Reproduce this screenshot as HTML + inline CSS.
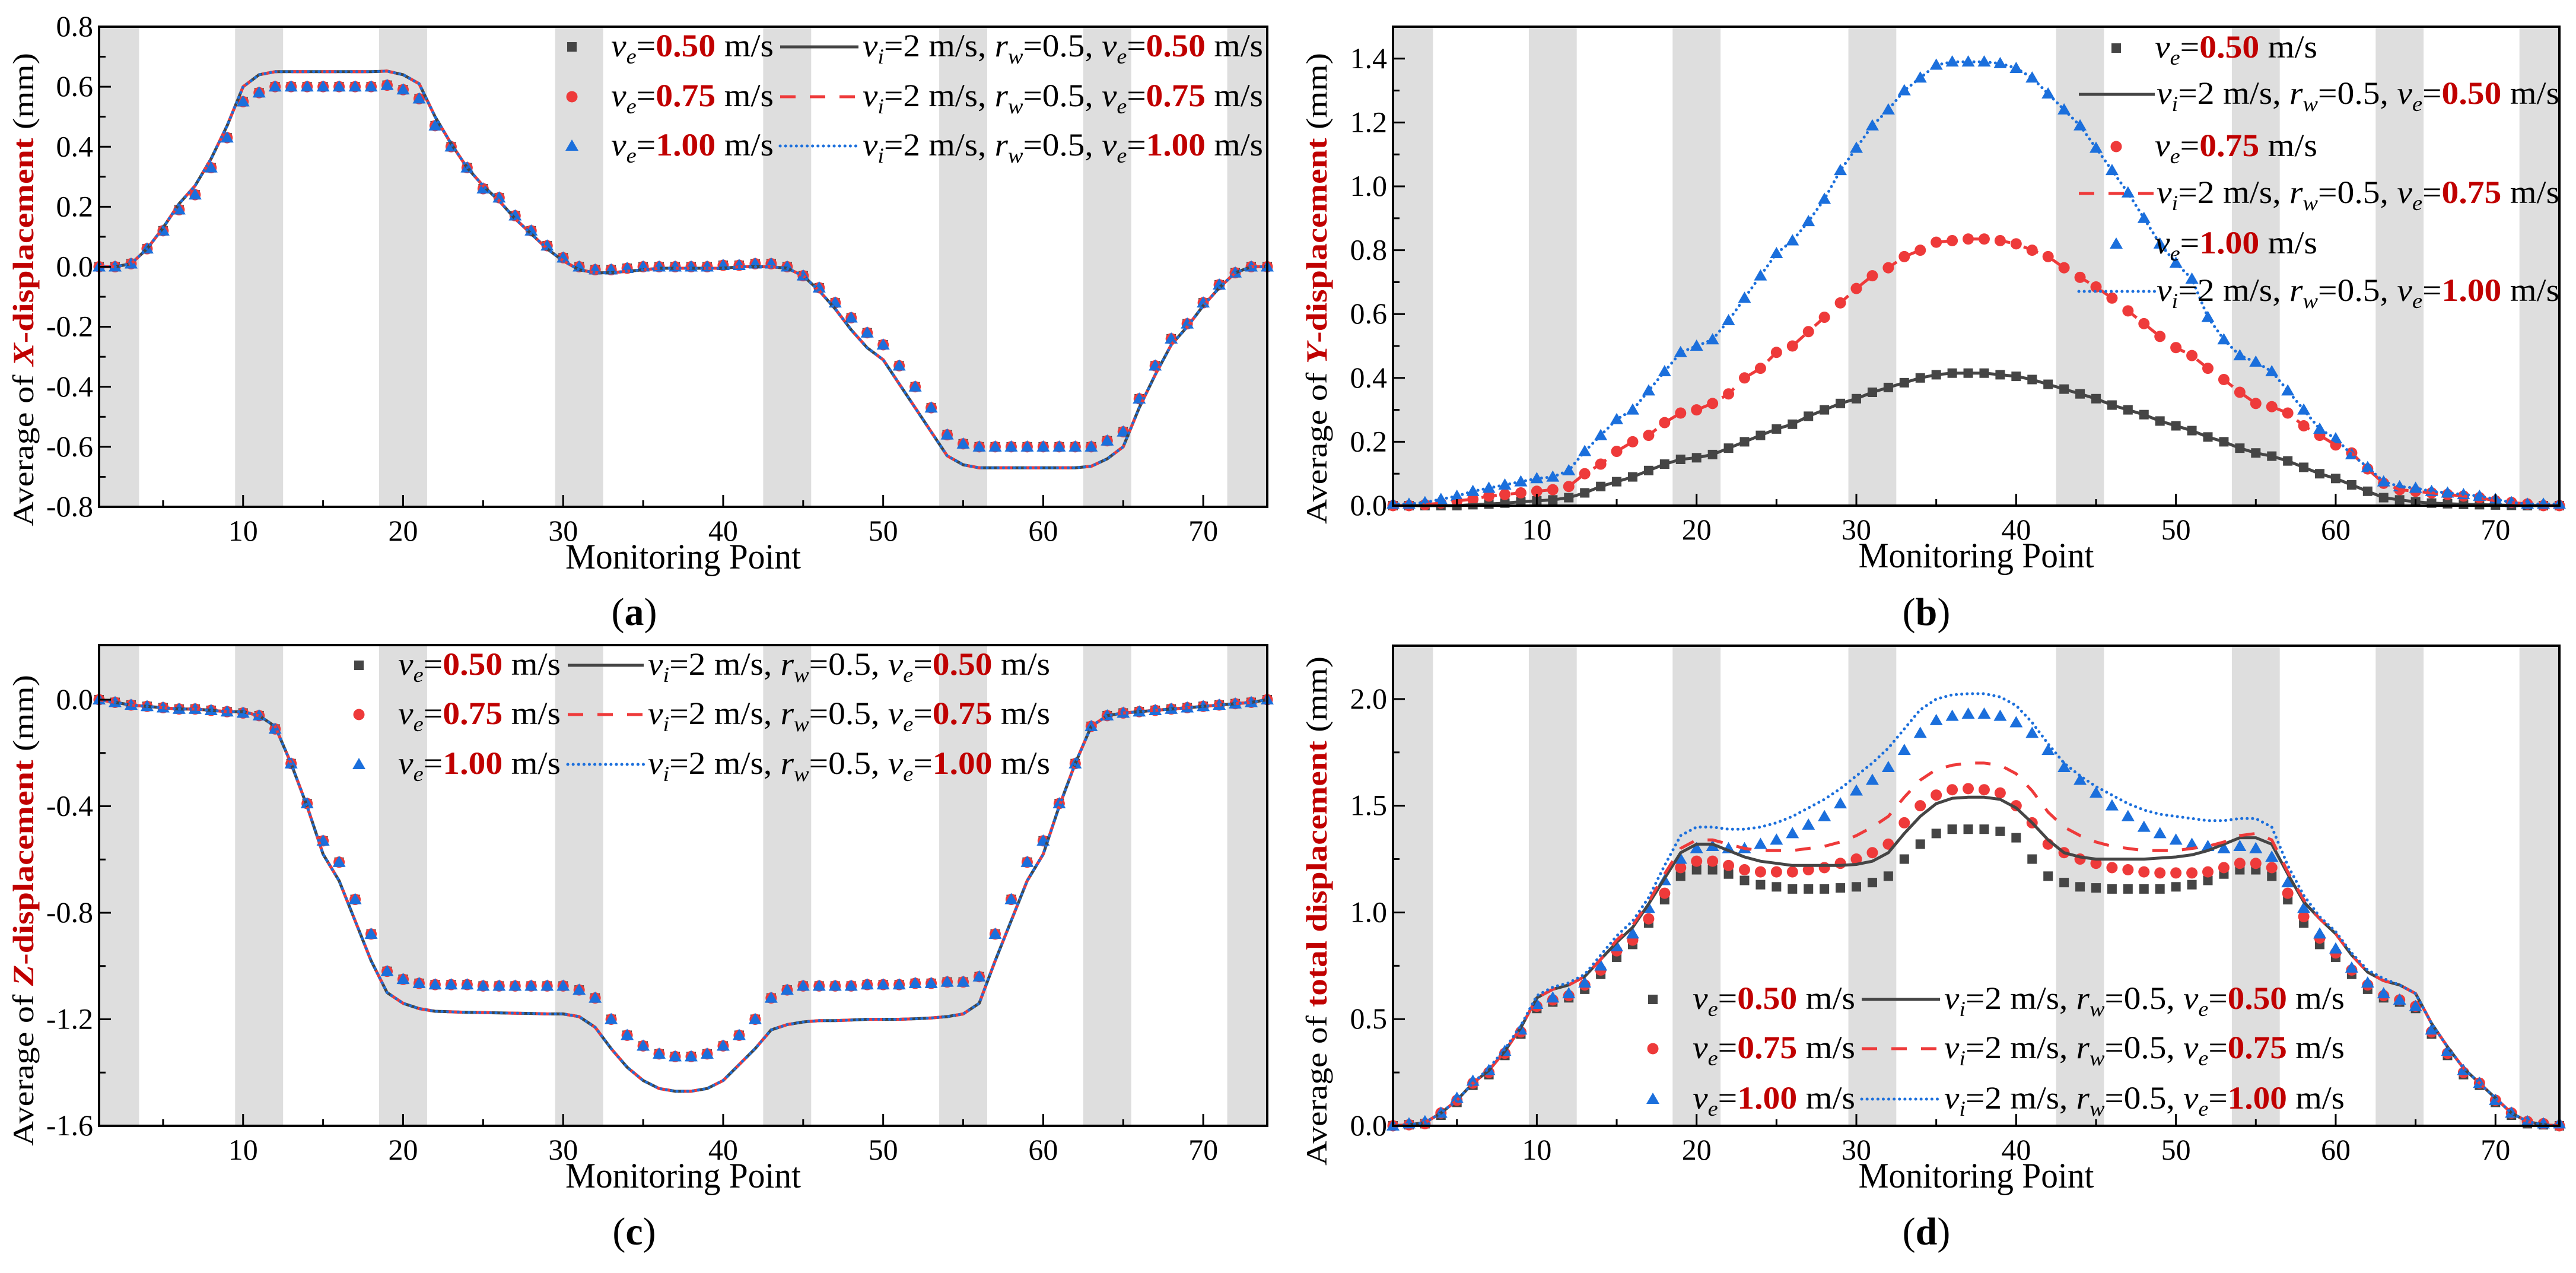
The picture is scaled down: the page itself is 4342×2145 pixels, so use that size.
<!DOCTYPE html>
<html><head><meta charset="utf-8"><style>
html,body{margin:0;padding:0;background:#fff;}
svg{display:block;font-family:"Liberation Serif","Times New Roman","DejaVu Serif",serif;}
svg text{font-family:"Liberation Serif","Times New Roman","DejaVu Serif",serif;}
</style></head>
<body>
<svg id="fig" xmlns="http://www.w3.org/2000/svg" width="4342" height="2145" viewBox="0 0 4342 2145" font-family="Liberation Serif, Times New Roman, DejaVu Serif, serif"></svg>
<script>
// ---------- DATA ----------
const points = [];
for (let i = 1; i <= 74; i++) points.push(i);
const bands = [[1,3.5],[9.5,12.5],[18.5,21.5],[29.5,32.5],[42.5,45.5],[53.5,56.5],[62.5,65.5],[71.5,74]];
const xTicks = [10,20,30,40,50,60,70];
const xMinor = [5,15,25,35,45,55,65];
const speedLabels = ["0.50","0.75","1.00"];

// (a) X-displacement
const aMarks050 = [0,0,0.01,0.06,0.12,0.19,0.24,0.33,0.43,0.55, 0.58,0.60,0.60,0.60,0.60,0.60,0.60,0.60,0.605,0.59, 0.56,0.47,0.40,0.33,0.26,0.23,0.17,0.12,0.07,0.03, 0,-0.01,-0.01,-0.005,0,0,0,0,0,0.005, 0.005,0.01,0.01,0,-0.03,-0.07,-0.12,-0.17,-0.22,-0.26, -0.33,-0.40,-0.47,-0.56,-0.59,-0.60,-0.60,-0.60,-0.60,-0.60, -0.60,-0.60,-0.60,-0.58,-0.55,-0.44,-0.33,-0.24,-0.19,-0.12, -0.06,-0.02,0,0];
const aMarks075 = [0,0,0.01,0.06,0.12,0.19,0.24,0.33,0.43,0.55, 0.58,0.60,0.60,0.60,0.60,0.60,0.60,0.60,0.605,0.59, 0.56,0.47,0.40,0.33,0.26,0.23,0.17,0.12,0.07,0.03, 0,-0.01,-0.01,-0.005,0,0,0,0,0,0.005, 0.005,0.01,0.01,0,-0.03,-0.07,-0.12,-0.17,-0.22,-0.26, -0.33,-0.40,-0.47,-0.56,-0.59,-0.60,-0.60,-0.60,-0.60,-0.60, -0.60,-0.60,-0.60,-0.58,-0.55,-0.44,-0.33,-0.24,-0.19,-0.12, -0.06,-0.02,0,0];
const aMarks100 = [0,0,0.01,0.06,0.12,0.19,0.24,0.33,0.43,0.55, 0.58,0.60,0.60,0.60,0.60,0.60,0.60,0.60,0.605,0.59, 0.56,0.47,0.40,0.33,0.26,0.23,0.17,0.12,0.07,0.03, 0,-0.01,-0.01,-0.005,0,0,0,0,0,0.005, 0.005,0.01,0.01,0,-0.03,-0.07,-0.12,-0.17,-0.22,-0.26, -0.33,-0.40,-0.47,-0.56,-0.59,-0.60,-0.60,-0.60,-0.60,-0.60, -0.60,-0.60,-0.60,-0.58,-0.55,-0.44,-0.33,-0.24,-0.19,-0.12, -0.06,-0.02,0,0];
const aLine = [0,0,0.01,0.06,0.13,0.21,0.27,0.36,0.47,0.60, 0.64,0.65,0.65,0.65,0.65,0.65,0.65,0.65,0.652,0.64, 0.61,0.50,0.41,0.33,0.27,0.22,0.16,0.11,0.06,0.02, -0.01,-0.02,-0.02,-0.015,-0.01,-0.005,-0.005,-0.005,-0.005,-0.005, 0,0,0,-0.005,-0.03,-0.08,-0.14,-0.21,-0.27,-0.31, -0.39,-0.47,-0.55,-0.63,-0.66,-0.67,-0.67,-0.67,-0.67,-0.67, -0.67,-0.67,-0.665,-0.64,-0.60,-0.47,-0.36,-0.26,-0.20,-0.13, -0.07,-0.02,0,0];
const aYTicks = [-0.8,-0.6,-0.4,-0.2,0,0.2,0.4,0.6,0.8];
const aYLabels = ["-0.8","-0.6","-0.4","-0.2","0.0","0.2","0.4","0.6","0.8"];

// (b) Y-displacement
const bMarks050 = [0,0,0,0,0,0.003,0.005,0.008,0.012,0.015, 0.018,0.025,0.04,0.06,0.075,0.09,0.11,0.13,0.145,0.15, 0.16,0.18,0.2,0.22,0.24,0.255,0.28,0.30,0.32,0.335, 0.355,0.37,0.385,0.40,0.41,0.415,0.415,0.415,0.41,0.405, 0.395,0.38,0.365,0.35,0.335,0.315,0.30,0.285,0.265,0.25, 0.235,0.215,0.20,0.18,0.165,0.155,0.14,0.12,0.10,0.085, 0.065,0.045,0.025,0.018,0.012,0.008,0.006,0.004,0.003,0.002, 0.001,0,0,0];
const bMarks075 = [0,0,0.003,0.008,0.015,0.02,0.03,0.035,0.04,0.045, 0.05,0.06,0.10,0.13,0.17,0.20,0.22,0.26,0.29,0.30, 0.32,0.35,0.40,0.43,0.48,0.50,0.545,0.59,0.635,0.68, 0.72,0.745,0.78,0.80,0.825,0.83,0.835,0.835,0.83,0.82, 0.80,0.78,0.745,0.715,0.685,0.65,0.61,0.57,0.53,0.495, 0.47,0.43,0.395,0.355,0.32,0.31,0.29,0.25,0.22,0.19, 0.165,0.115,0.07,0.05,0.045,0.04,0.035,0.03,0.025,0.015, 0.01,0.005,0,0];
const bMarks100 = [0.005,0.005,0.01,0.02,0.03,0.045,0.055,0.065,0.075,0.085, 0.09,0.11,0.17,0.22,0.27,0.30,0.36,0.42,0.48,0.50, 0.52,0.58,0.65,0.72,0.79,0.83,0.89,0.96,1.05,1.12, 1.19,1.24,1.30,1.34,1.38,1.39,1.39,1.39,1.385,1.37, 1.34,1.29,1.24,1.19,1.12,1.05,0.98,0.90,0.82,0.76, 0.71,0.59,0.52,0.47,0.45,0.42,0.36,0.30,0.24,0.21, 0.16,0.12,0.075,0.06,0.055,0.045,0.04,0.035,0.03,0.02, 0.01,0.005,0.005,0.005];
const bYTicks = [0,0.2,0.4,0.6,0.8,1.0,1.2,1.4];
const bYLabels = ["0.0","0.2","0.4","0.6","0.8","1.0","1.2","1.4"];

// (c) Z-displacement
const cMarks = [0,-0.01,-0.02,-0.025,-0.03,-0.035,-0.035,-0.04,-0.045,-0.05, -0.06,-0.11,-0.24,-0.39,-0.53,-0.61,-0.75,-0.88,-1.02,-1.05, -1.065,-1.07,-1.07,-1.07,-1.075,-1.075,-1.075,-1.075,-1.075,-1.075, -1.09,-1.12,-1.2,-1.26,-1.3,-1.33,-1.34,-1.34,-1.33,-1.3, -1.26,-1.2,-1.12,-1.09,-1.075,-1.075,-1.075,-1.075,-1.07,-1.07, -1.07,-1.065,-1.065,-1.06,-1.06,-1.04,-0.88,-0.75,-0.61,-0.53, -0.39,-0.24,-0.10,-0.06,-0.05,-0.045,-0.04,-0.035,-0.03,-0.025, -0.02,-0.015,-0.01,0];
const cLine = [0,-0.01,-0.02,-0.025,-0.03,-0.035,-0.035,-0.04,-0.045,-0.045, -0.06,-0.10,-0.24,-0.40,-0.58,-0.68,-0.83,-0.98,-1.10,-1.14, -1.16,-1.17,-1.172,-1.174,-1.175,-1.176,-1.177,-1.178,-1.18,-1.18, -1.19,-1.23,-1.31,-1.38,-1.43,-1.46,-1.47,-1.47,-1.46,-1.43, -1.37,-1.31,-1.24,-1.22,-1.21,-1.205,-1.205,-1.203,-1.2,-1.2, -1.2,-1.198,-1.195,-1.19,-1.18,-1.14,-0.98,-0.83,-0.68,-0.58, -0.40,-0.24,-0.10,-0.06,-0.05,-0.045,-0.04,-0.035,-0.03,-0.025, -0.02,-0.015,-0.01,0];
const cYTicks = [-1.6,-1.2,-0.8,-0.4,0];
const cYLabels = ["-1.6","-1.2","-0.8","-0.4","0.0"];

// (d) total displacement
const dMarks050 = [0,0.005,0.01,0.05,0.11,0.19,0.24,0.33,0.43,0.55, 0.58,0.60,0.64,0.71,0.79,0.85,0.95,1.06,1.17,1.20, 1.20,1.18,1.15,1.13,1.12,1.11,1.11,1.11,1.115,1.12, 1.14,1.17,1.25,1.32,1.37,1.39,1.39,1.39,1.38,1.35, 1.25,1.17,1.14,1.12,1.115,1.11,1.11,1.11,1.11,1.12, 1.13,1.15,1.18,1.20,1.20,1.17,1.06,0.95,0.85,0.79, 0.71,0.64,0.60,0.58,0.55,0.43,0.33,0.24,0.19,0.11, 0.05,0.01,0.005,0];
const dMarks075 = [0,0.005,0.01,0.06,0.12,0.2,0.25,0.34,0.44,0.56, 0.59,0.61,0.66,0.73,0.82,0.87,0.97,1.09,1.21,1.24, 1.24,1.22,1.20,1.19,1.19,1.19,1.20,1.21,1.23,1.25, 1.28,1.32,1.42,1.50,1.55,1.575,1.58,1.575,1.56,1.50, 1.42,1.32,1.28,1.25,1.23,1.21,1.20,1.19,1.185,1.185, 1.185,1.19,1.21,1.23,1.23,1.21,1.09,0.98,0.88,0.81, 0.73,0.66,0.61,0.59,0.56,0.44,0.34,0.25,0.2,0.12, 0.06,0.02,0.01,0];
const dMarks100 = [0,0.01,0.02,0.06,0.13,0.21,0.26,0.35,0.45,0.57, 0.60,0.62,0.67,0.75,0.84,0.90,1.02,1.15,1.25,1.30, 1.31,1.30,1.30,1.32,1.34,1.37,1.41,1.45,1.51,1.57, 1.62,1.68,1.76,1.84,1.90,1.92,1.93,1.93,1.92,1.89, 1.84,1.76,1.68,1.62,1.56,1.50,1.45,1.40,1.37,1.34, 1.32,1.31,1.30,1.31,1.30,1.26,1.14,1.02,0.90,0.83, 0.74,0.67,0.62,0.59,0.56,0.45,0.35,0.26,0.2,0.12, 0.06,0.02,0.01,0.01];
const dLine050 = [0,0.005,0.015,0.06,0.12,0.2,0.26,0.35,0.46,0.60, 0.64,0.66,0.70,0.78,0.86,0.93,1.04,1.16,1.28,1.32, 1.32,1.29,1.26,1.24,1.23,1.22,1.22,1.22,1.22,1.225, 1.24,1.28,1.37,1.45,1.51,1.535,1.54,1.54,1.53,1.49, 1.42,1.34,1.28,1.26,1.25,1.25,1.25,1.25,1.255,1.26, 1.27,1.29,1.32,1.35,1.35,1.32,1.18,1.05,0.97,0.90, 0.80,0.72,0.68,0.66,0.62,0.48,0.37,0.27,0.20,0.13, 0.06,0.02,0.005,0];
const dLine075 = [0,0.005,0.015,0.06,0.12,0.2,0.26,0.35,0.46,0.60, 0.64,0.66,0.70,0.78,0.87,0.94,1.05,1.18,1.30,1.34, 1.34,1.32,1.30,1.29,1.29,1.29,1.30,1.31,1.33,1.36, 1.40,1.45,1.54,1.62,1.67,1.69,1.70,1.70,1.69,1.65, 1.57,1.47,1.40,1.36,1.33,1.31,1.30,1.29,1.29,1.29, 1.30,1.31,1.33,1.36,1.37,1.34,1.19,1.06,0.97,0.90, 0.80,0.72,0.68,0.66,0.62,0.48,0.37,0.27,0.20,0.13, 0.06,0.02,0.005,0];
const dLine100 = [0,0.005,0.015,0.06,0.12,0.2,0.27,0.36,0.47,0.61, 0.65,0.67,0.71,0.80,0.89,0.96,1.07,1.22,1.36,1.40, 1.40,1.39,1.39,1.40,1.42,1.45,1.49,1.53,1.58,1.64, 1.70,1.77,1.86,1.95,2.00,2.02,2.025,2.025,2.01,1.97, 1.89,1.79,1.70,1.64,1.59,1.55,1.51,1.48,1.46,1.45, 1.44,1.43,1.43,1.44,1.44,1.40,1.22,1.08,0.98,0.91, 0.81,0.73,0.69,0.66,0.62,0.48,0.37,0.27,0.20,0.13, 0.06,0.02,0.005,0];
const dYTicks = [0,0.5,1.0,1.5,2.0];
const dYLabels = ["0.0","0.5","1.0","1.5","2.0"];

// ---------- RENDER ----------
const NS = "http://www.w3.org/2000/svg";
const FONT = "Liberation Serif, Times New Roman, DejaVu Serif, serif";
const svg = document.getElementById('fig');
const COL = {k:"#454545", r:"#ee3a3a", b:"#1b6fdc", band:"#dedede", red:"#c00000"};
function mk(tag, attrs, parent){
  const e = document.createElementNS(NS, tag);
  for (const k in attrs) e.setAttribute(k, attrs[k]);
  if (tag === 'text') e.setAttribute('font-family', FONT);
  (parent||svg).appendChild(e);
  return e;
}

function panel(cfg){
  const g = mk('g', {});
  
  
  const X = v => cfg.L + (v - 1) / 73 * (cfg.R - cfg.L);
  const Y = v => cfg.B - (v - cfg.ymin) / (cfg.ymax - cfg.ymin) * (cfg.B - cfg.T);
  bands.forEach(bd => {
    const r = mk('rect', {x:X(bd[0]), y:cfg.T, width:X(bd[1])-X(bd[0]), height:cfg.B-cfg.T, fill:COL.band}, g);
    
    
  });
  const mg = mk('g', {}, g);
  
  
  cfg.marks.forEach(s => {
    s.data.forEach((v, i) => {
      const x = X(points[i]), y = Y(v);
      let e;
      if (s.shape === 'sq') e = mk('rect', {x:x-8, y:y-8, width:16, height:16, fill:COL.k}, mg);
      else if (s.shape === 'ci') e = mk('circle', {cx:x, cy:y, r:9.5, fill:COL.r}, mg);
      else e = mk('polygon', {points:`${x},${y-11} ${x+11},${y+8} ${x-11},${y+8}`, fill:COL.b}, mg);
      
      
    });
  });
  cfg.lines.forEach(s => {
    const d = s.data.map((v, i) => (i ? 'L' : 'M') + X(points[i]).toFixed(1) + ',' + Y(v).toFixed(1)).join('');
    const p = mk('path', {d:d, fill:'none', stroke:s.color, 'stroke-width':5, 'stroke-dasharray':s.dash||'none', 'stroke-linecap':s.cap||'butt', 'stroke-linejoin':'round'}, g);
    
    
  });
  const fr = mk('rect', {x:cfg.L, y:cfg.T, width:cfg.R-cfg.L, height:cfg.B-cfg.T, fill:'none', stroke:'#000', 'stroke-width':4}, g);
  
  
  xTicks.forEach(t => {
    mk('line', {x1:X(t), x2:X(t), y1:cfg.B, y2:cfg.B-20, stroke:'#000', 'stroke-width':3}, g);
    const tx = mk('text', {x:X(t), y:cfg.B+57, 'font-size':50, 'text-anchor':'middle'}, g);
    tx.textContent = String(t);
    
    
  });
  xMinor.forEach(t => mk('line', {x1:X(t), x2:X(t), y1:cfg.B, y2:cfg.B-11, stroke:'#000', 'stroke-width':3}, g));
  cfg.yTicks.forEach((t, i) => {
    mk('line', {x1:cfg.L, x2:cfg.L+20, y1:Y(t), y2:Y(t), stroke:'#000', 'stroke-width':3}, g);
    const tx = mk('text', {x:cfg.L-10, y:Y(t)+16, 'font-size':50, 'text-anchor':'end'}, g);
    tx.textContent = cfg.yLabels[i];
    
    
  });
  for (let i = 0; i < cfg.yTicks.length - 1; i++) {
    const m = (cfg.yTicks[i] + cfg.yTicks[i+1]) / 2;
    mk('line', {x1:cfg.L, x2:cfg.L+11, y1:Y(m), y2:Y(m), stroke:'#000', 'stroke-width':3}, g);
  }
  const xt = mk('text', {x:(cfg.L+cfg.R)/2, y:cfg.B+104, 'font-size':60, 'text-anchor':'middle', textLength:397, lengthAdjust:'spacingAndGlyphs'}, g);
  xt.textContent = 'Monitoring Point';
  
  
  const yt = mk('text', {x:0, y:0, 'font-size':50, 'text-anchor':'middle', transform:`translate(${cfg.ytx},${cfg.yty}) rotate(-90)`, textLength:cfg.ytl, lengthAdjust:'spacingAndGlyphs'}, g);
  yt.innerHTML = `<tspan>Average of </tspan><tspan fill="${COL.red}" font-weight="bold">${cfg.ytBold}</tspan><tspan> (mm)</tspan>`;
  
  
  const pl = mk('text', {x:cfg.plx, y:cfg.ply, 'font-size':66, 'text-anchor':'middle'}, g);
  pl.innerHTML = `(<tspan font-weight="bold">${cfg.letter}</tspan>)`;
  
  
  return {g, X, Y};
}

function sub(ch){ return `<tspan font-style="italic" font-size="36" dy="12">${ch}</tspan><tspan dy="-12">`; }
function t1(s){ return `<tspan font-style="italic">v</tspan>${sub('e')}=</tspan><tspan fill="${COL.red}" font-weight="bold">${s}</tspan><tspan> m/s</tspan>`; }
function t2(s){ return `<tspan font-style="italic">v</tspan>${sub('i')}=2 m/s, </tspan><tspan font-style="italic">r</tspan>${sub('w')}=0.5, </tspan><tspan font-style="italic">v</tspan>${sub('e')}=</tspan><tspan fill="${COL.red}" font-weight="bold">${s}</tspan><tspan> m/s</tspan>`; }

const lineStyles = [
  {color:COL.k, dash:'none', cap:'butt'},
  {color:COL.r, dash:'26 24', cap:'butt'},
  {color:COL.b, dash:'0.1 9', cap:'round'}
];
function markerAt(g, shape, x, y){
  let e;
  if (shape === 0) e = mk('rect', {x:x-8, y:y-8, width:16, height:16, fill:COL.k}, g);
  else if (shape === 1) e = mk('circle', {cx:x, cy:y, r:9.5, fill:COL.r}, g);
  else e = mk('polygon', {points:`${x},${y-11} ${x+11},${y+8} ${x-11},${y+8}`, fill:COL.b}, g);
  
  
}
function textAt(g, html, x, y, len){
  const t = mk('text', {x:x, y:y, 'font-size':54, textLength:len, lengthAdjust:'spacingAndGlyphs'}, g);
  t.innerHTML = html;
  
  
}
function lineAt(g, i, x1, x2, y){
  const s = lineStyles[i];
  const l = mk('line', {x1:x1, x2:x2, y1:y, y2:y, stroke:s.color, 'stroke-width':5, 'stroke-dasharray':s.dash, 'stroke-linecap':s.cap}, g);
  
  
}
function legendRow(parent, L){
  const g = mk('g', {}, parent);
  
  
  L.rows.forEach((ry, i) => {
    const e = mk('g', {}, g);
    
    
    markerAt(e, i, L.mx, ry);
    textAt(e, t1(speedLabels[i]), L.t1x, ry+16, 274);
    lineAt(e, i, L.l1, L.l2, ry);
    textAt(e, t2(speedLabels[i]), L.t2x, ry+16, L.t2l);
  });
}

const pa = panel({name:'panel-a-x-displacement', L:167, R:2136, T:45, B:854, ymin:-0.8, ymax:0.8,
  yTicks:aYTicks, yLabels:aYLabels, ytx:56, yty:488, ytl:798, ytBold:'<tspan font-style="italic">X</tspan>-displacement',
  plx:1069, ply:1053, letter:'a',
  marks:[{id:'ve050', shape:'sq', data:aMarks050},{id:'ve075', shape:'ci', data:aMarks075},{id:'ve100', shape:'tr', data:aMarks100}],
  lines:[{id:'ve050', color:COL.k, data:aLine},{id:'ve075', color:COL.r, dash:'26 24', data:aLine},{id:'ve100', color:COL.b, dash:'0.1 9', cap:'round', data:aLine}]});
legendRow(pa.g, {rows:[79,163,246], mx:964, t1x:1030, l1:1315, l2:1447, t2x:1454, t2l:675});

const pb = panel({name:'panel-b-y-displacement', L:2348, R:4314, T:45, B:852, ymin:0, ymax:1.5,
  yTicks:bYTicks, yLabels:bYLabels, ytx:2236, yty:486, ytl:794, ytBold:'<tspan font-style="italic">Y</tspan>-displacement',
  plx:3247, ply:1053, letter:'b',
  marks:[{id:'ve050', shape:'sq', data:bMarks050},{id:'ve075', shape:'ci', data:bMarks075},{id:'ve100', shape:'tr', data:bMarks100}],
  lines:[{id:'ve050', color:COL.k, data:bMarks050},{id:'ve075', color:COL.r, dash:'26 24', data:bMarks075},{id:'ve100', color:COL.b, dash:'0.1 9', cap:'round', data:bMarks100}]});
(function(){
  const g = mk('g', {}, pb.g);
  
  
  const mrows = [81,247,411], lrows = [159,326,491];
  for (let i = 0; i < 3; i++) {
    markerAt(g, i, 3567, mrows[i]);
    textAt(g, t1(speedLabels[i]), 3632, mrows[i]+16, 274);
    lineAt(g, i, 3504, 3632, lrows[i]);
    textAt(g, t2(speedLabels[i]), 3635, lrows[i]+16, 679);
  }
})();

const pc = panel({name:'panel-c-z-displacement', L:167, R:2136, T:1087, B:1897, ymin:-1.6, ymax:0.205,
  yTicks:cYTicks, yLabels:cYLabels, ytx:56, yty:1534, ytl:794, ytBold:'<tspan font-style="italic">Z</tspan>-displacement',
  plx:1069, ply:2097, letter:'c',
  marks:[{id:'ve050', shape:'sq', data:cMarks},{id:'ve075', shape:'ci', data:cMarks},{id:'ve100', shape:'tr', data:cMarks}],
  lines:[{id:'ve050', color:COL.k, data:cLine},{id:'ve075', color:COL.r, dash:'26 24', data:cLine},{id:'ve100', color:COL.b, dash:'0.1 9', cap:'round', data:cLine}]});
legendRow(pc.g, {rows:[1121,1204,1288], mx:605, t1x:671, l1:957, l2:1085, t2x:1092, t2l:678});

const pd = panel({name:'panel-d-total-displacement', L:2348, R:4314, T:1088, B:1897, ymin:0, ymax:2.25,
  yTicks:dYTicks, yLabels:dYLabels, ytx:2236, yty:1535, ytl:858, ytBold:'total displacement',
  plx:3247, ply:2097, letter:'d',
  marks:[{id:'ve050', shape:'sq', data:dMarks050},{id:'ve075', shape:'ci', data:dMarks075},{id:'ve100', shape:'tr', data:dMarks100}],
  lines:[{id:'ve050', color:COL.k, data:dLine050},{id:'ve075', color:COL.r, dash:'26 24', data:dLine075},{id:'ve100', color:COL.b, dash:'0.1 9', cap:'round', data:dLine100}]});
legendRow(pd.g, {rows:[1684,1767,1852], mx:2786, t1x:2853, l1:3138, l2:3270, t2x:3277, t2l:675});
</script>
</body></html>
